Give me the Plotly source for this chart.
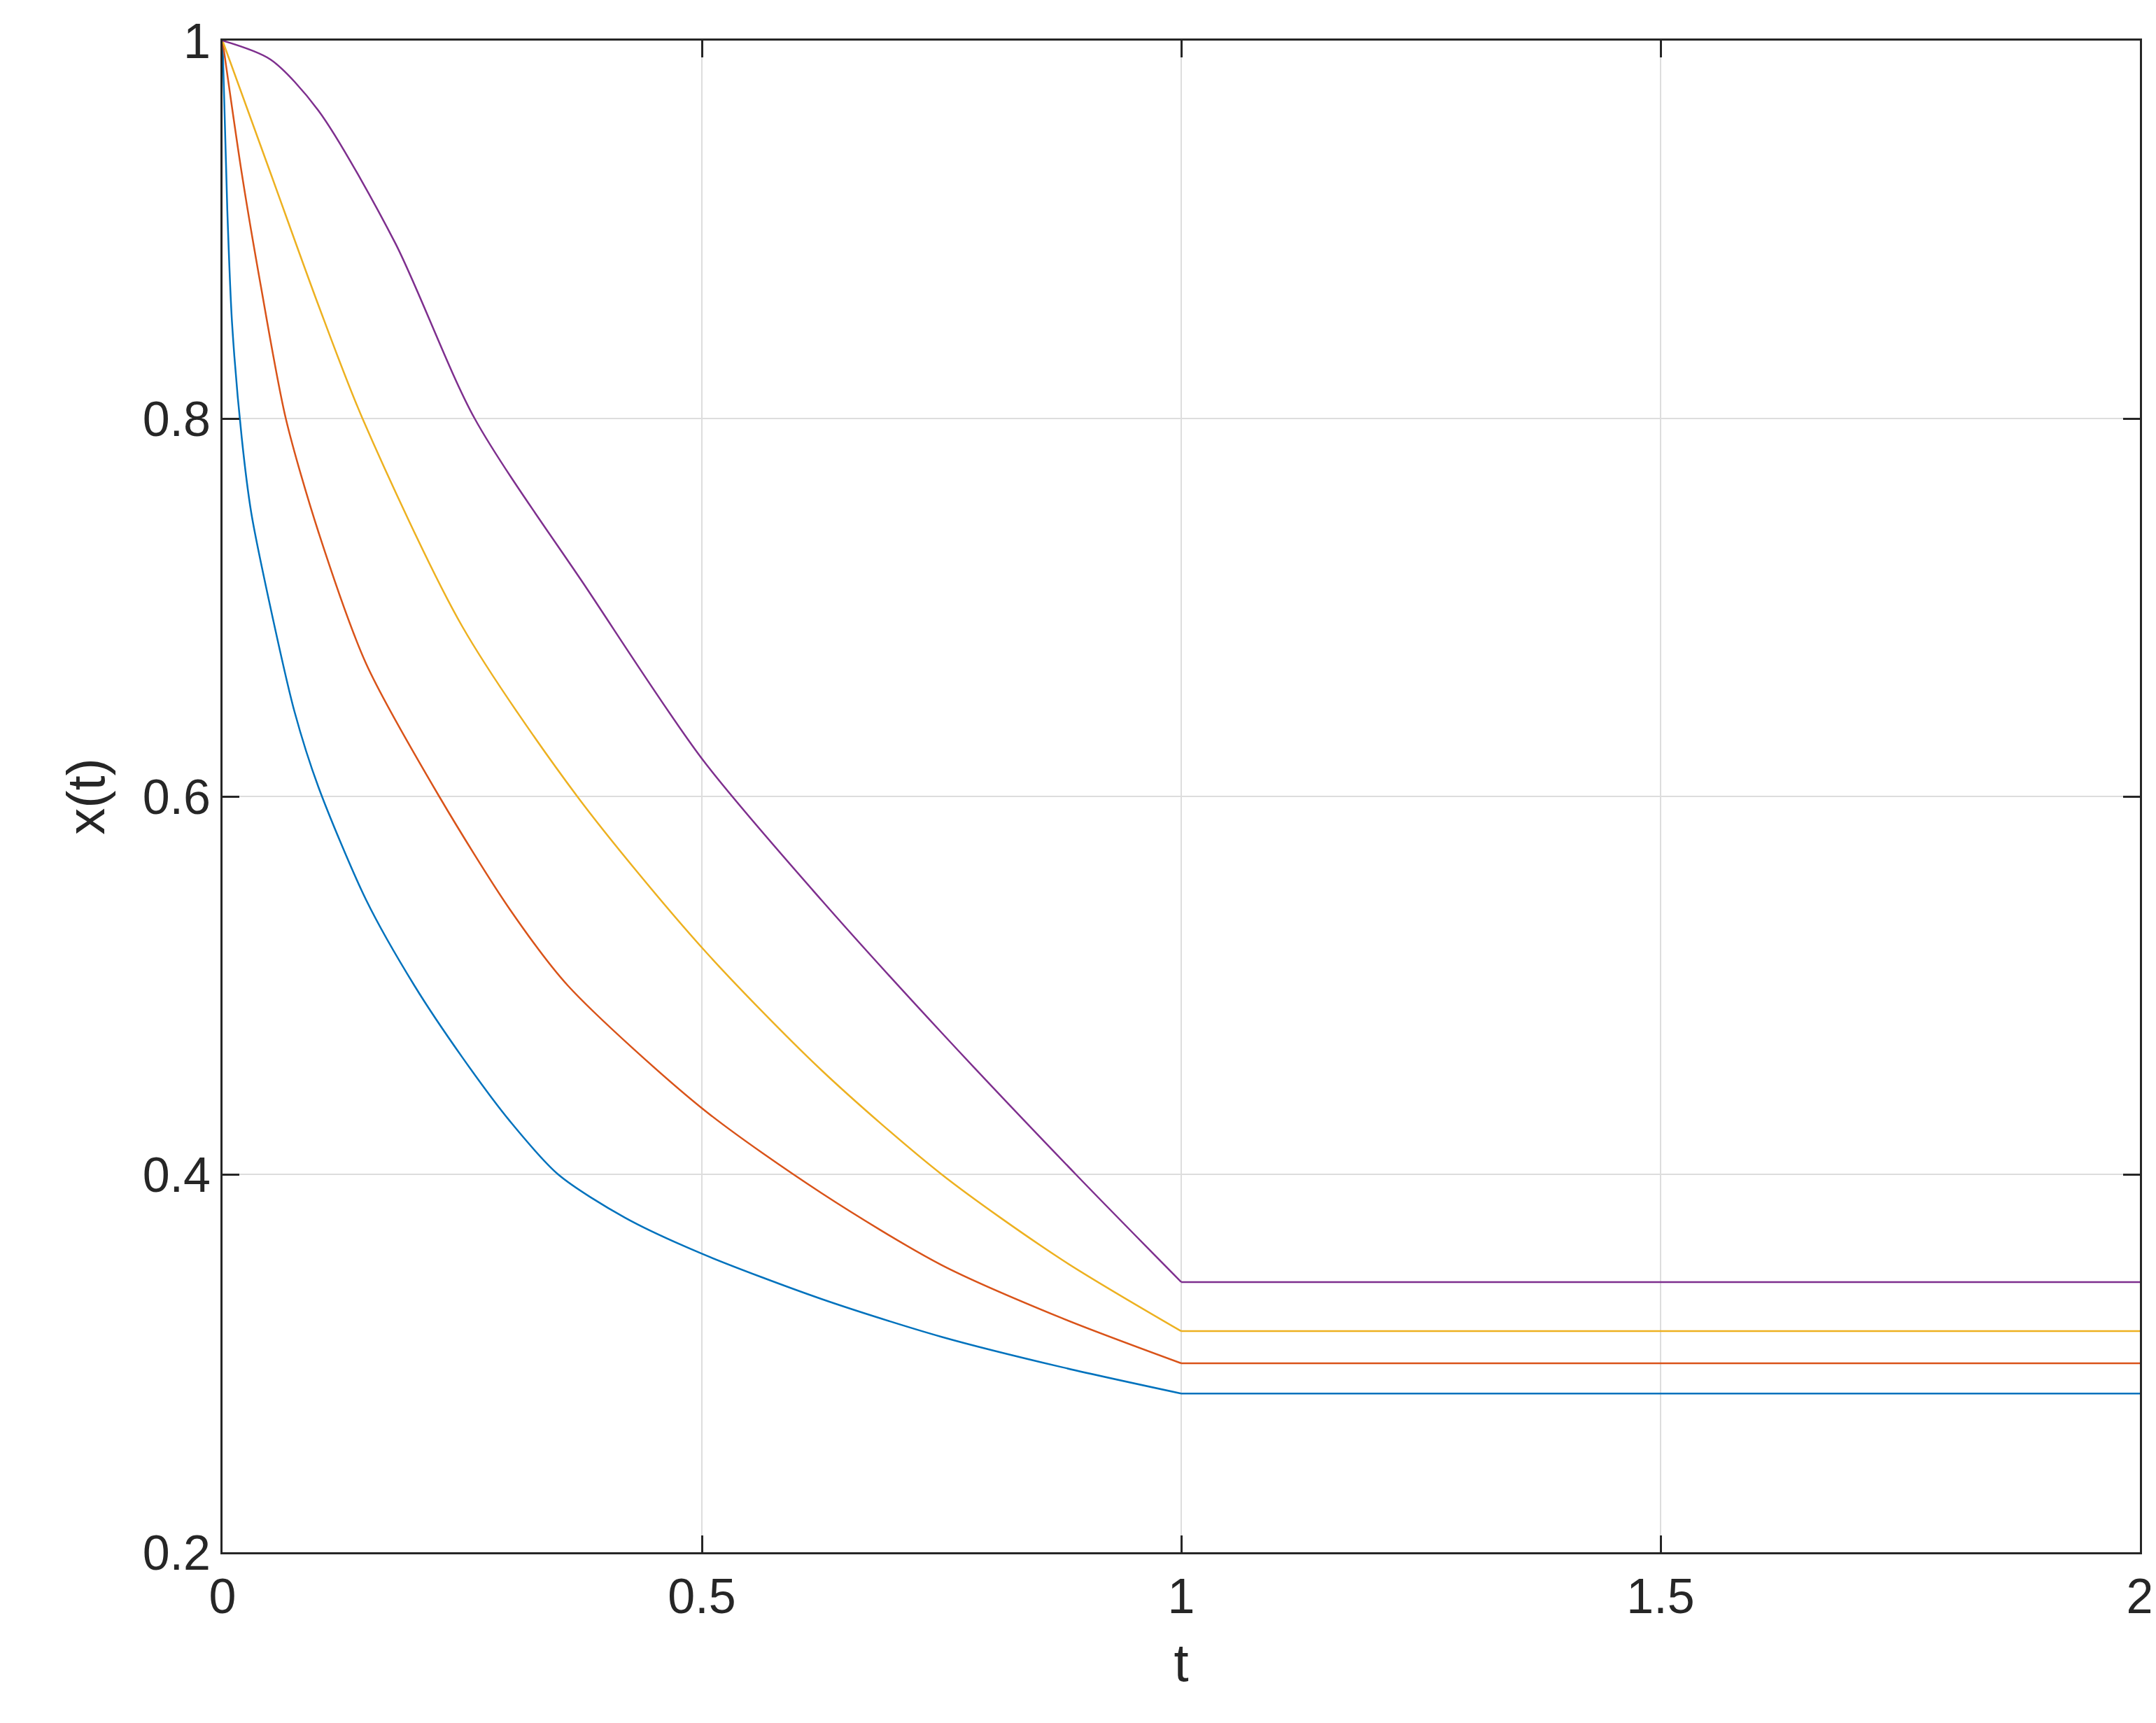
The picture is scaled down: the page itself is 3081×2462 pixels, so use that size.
import plotly.graph_objects as go

t_blue = [0, 0.005, 0.01, 0.02, 0.03, 0.05, 0.075, 0.1, 0.15, 0.2, 0.25, 0.3, 0.35, 0.42, 0.5, 0.625, 0.75, 0.875, 1.0, 2.0]
x_blue = [1.0, 0.91, 0.85, 0.79, 0.75, 0.70, 0.645, 0.605, 0.545, 0.50, 0.462, 0.428, 0.40, 0.377, 0.358, 0.334, 0.314, 0.298, 0.284, 0.284]

t_red = [0, 0.02, 0.04, 0.066, 0.1, 0.15, 0.226, 0.3, 0.36, 0.5, 0.625, 0.75, 0.875, 1.0, 2.0]
x_red = [1.0, 0.93, 0.87, 0.80, 0.74, 0.67, 0.60, 0.54, 0.50, 0.435, 0.39, 0.352, 0.324, 0.30, 0.30]

t_yel = [0, 0.05, 0.1, 0.146, 0.25, 0.37, 0.5, 0.625, 0.75, 0.875, 1.0, 2.0]
x_yel = [1.0, 0.93, 0.86, 0.80, 0.69, 0.60, 0.52, 0.455, 0.40, 0.355, 0.317, 0.317]

t_pur = [0, 0.05, 0.1, 0.18, 0.263, 0.38, 0.5, 0.625, 0.75, 0.89, 1.0, 2.0]
x_pur = [1.0, 0.99, 0.963, 0.893, 0.80, 0.71, 0.62, 0.545, 0.475, 0.40, 0.343, 0.343]

series = [(t_blue, x_blue, "#0072BD"), (t_red, x_red, "#D95319"),
          (t_yel, x_yel, "#EDB120"), (t_pur, x_pur, "#7E2F8E")]

fig = go.Figure()
for t, x, c in series:
    # curved part up to t=1, then straight flat part
    fig.add_trace(go.Scatter(x=t[:-1], y=x[:-1], mode="lines",
                             line=dict(color=c, width=2.5, shape="spline", smoothing=0.8), showlegend=False))
    fig.add_trace(go.Scatter(x=t[-2:], y=x[-2:], mode="lines",
                             line=dict(color=c, width=2.5), showlegend=False))

ax = dict(showline=True, linecolor="#262626", linewidth=3, mirror="ticks", ticks="inside",
          ticklen=24, tickwidth=3, tickcolor="#262626", showgrid=True, gridcolor="#DDDDDD",
          gridwidth=2, zeroline=False, tickfont=dict(size=70, color="#262626"),
          title_font=dict(size=76, color="#262626"))
fig.update_xaxes(range=[0, 2], dtick=0.5, title_text="t", title_standoff=30, **ax)
fig.update_yaxes(range=[0.2, 1], dtick=0.2, title_text="x(t)", title_standoff=30, **ax)
fig.update_layout(width=3081, height=2462, plot_bgcolor="white", paper_bgcolor="white",
                  font=dict(family="Liberation Sans"),
                  margin=dict(l=310, r=31, t=50, b=252))
fig.write_html("out.html")
